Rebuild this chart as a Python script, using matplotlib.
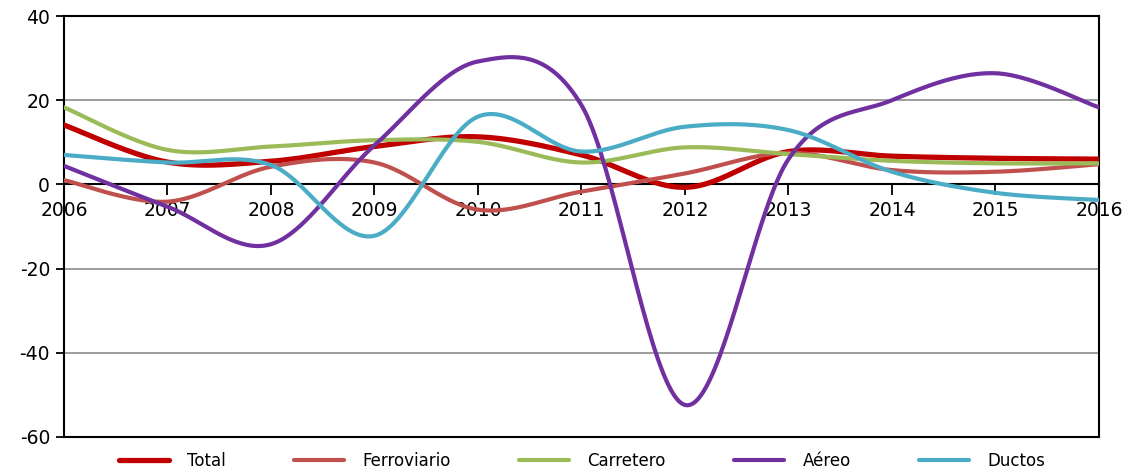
import numpy as np
import matplotlib
matplotlib.use("Agg")
import matplotlib.pyplot as plt

years = [2006, 2007, 2008, 2009, 2010, 2011, 2012, 2013, 2014, 2015, 2016]
total = [14.1, 5.3, 5.5, 9.0, 11.3, 7.0, -0.7, 7.8, 6.7, 6.2, 6.0]
ferroviario = [1.0, -4.1, 4.2, 5.2, -6.0, -1.7, 2.6, 7.5, 3.4, 3.0, 4.8]
carretero = [18.3, 8.2, 9.0, 10.5, 10.1, 5.2, 8.8, 7.2, 5.6, 5.0, 5.0]
aereo = [4.4, -5.3, -14.2, 9.3, 29.2, 18.8, -52.4, 6.0, 20.0, 26.4, 18.3]
ductos = [7.0, 5.2, 4.6, -12.2, 16.1, 7.8, 13.7, 12.9, 3.0, -2.0, -3.7]

series = [
    ("Total", total, "#C00000", 3.8),
    ("Ferroviario", ferroviario, "#C0504D", 3.0),
    ("Carretero", carretero, "#9BBB59", 3.0),
    ("Aéreo", aereo, "#7030A0", 3.0),
    ("Ductos", ductos, "#4BACC6", 3.0),
]


def smooth(xs, ys, n=40):
    xs = np.asarray(xs, float)
    ys = np.asarray(ys, float)
    px = np.concatenate([[xs[0]], xs, [xs[-1]]])
    py = np.concatenate([[ys[0]], ys, [ys[-1]]])
    ox, oy = [], []
    t = np.linspace(0, 1, n)
    for i in range(1, len(px) - 2):
        p0 = np.array([px[i], py[i]])
        p3 = np.array([px[i + 1], py[i + 1]])
        c1 = p0 + (np.array([px[i + 1], py[i + 1]]) - np.array([px[i - 1], py[i - 1]])) / 6
        c2 = p3 - (np.array([px[i + 2], py[i + 2]]) - np.array([px[i], py[i]])) / 6
        b = ((1 - t) ** 3)[:, None] * p0 + (3 * (1 - t) ** 2 * t)[:, None] * c1 \
            + (3 * (1 - t) * t ** 2)[:, None] * c2 + (t ** 3)[:, None] * p3
        ox.extend(b[:, 0])
        oy.extend(b[:, 1])
    return np.array(ox), np.array(oy)


plt.rcParams['font.family'] = ['DejaVu Sans']
fig = plt.figure(figsize=(11.26, 4.69), dpi=100)
ax = fig.add_axes([64 / 1126, 1 - 437 / 469, (1099 - 64) / 1126, (437 - 16) / 469])

for y in [20, -20, -40]:
    ax.axhline(y, color="#8c8c8c", lw=1.2, zorder=1)
ax.axhline(-60, color="black", lw=1.5, zorder=1, clip_on=False)

for name, vals, col, lw in series:
    sx, sy = smooth(years, vals)
    ax.plot(sx, sy, color=col, lw=lw, label=name, solid_capstyle="round", zorder=3)

ax.set_xlim(2006, 2016)
ax.set_ylim(-60, 40)
ax.set_yticks([-60, -40, -20, 0, 20, 40])
ax.set_yticklabels(["-60", "-40", "-20", "0", "20", "40"])
ax.set_xticks(years)
ax.set_xticklabels([str(y) for y in years])

ax.spines['bottom'].set_position(('data', 0))
for s in ax.spines.values():
    s.set_linewidth(1.5)
    s.set_color("black")
ax.spines['bottom'].set_zorder(2)

ax.tick_params(axis='x', direction='out', length=8, width=1.3, pad=4, labelsize=13.5)
ax.tick_params(axis='y', direction='out', length=6, width=1.3, pad=4, labelsize=13.5)

leg = fig.legend(loc='center', bbox_to_anchor=(0.517, 0.018), ncol=5, frameon=False,
                 fontsize=12, handlelength=3.0, columnspacing=4.1, handletextpad=1.1)

fig.savefig("out.png", dpi=100)
